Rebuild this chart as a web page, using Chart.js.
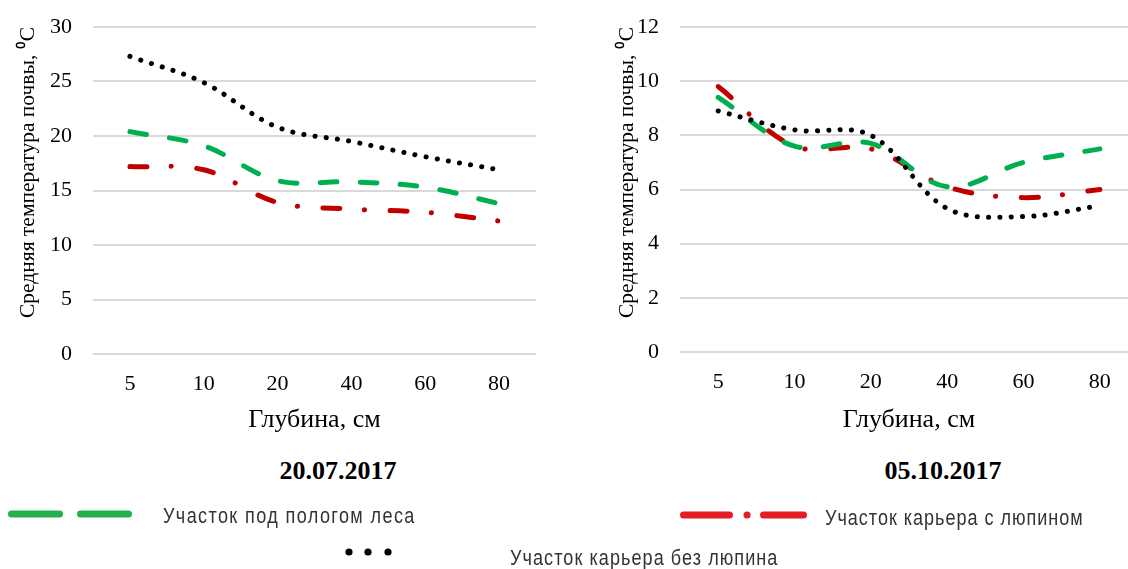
<!DOCTYPE html>
<html lang="ru">
<head>
<meta charset="UTF-8">
<title>Средняя температура почвы</title>
<script src="https://cdn.jsdelivr.net/npm/chart.js@4.4.1/dist/chart.umd.min.js"></script>
<style>
  html, body { margin: 0; padding: 0; background: #fff; }
  body { width: 1128px; height: 569px; overflow: hidden; position: relative; }
  canvas { position: absolute; top: 0; }
  #julyChart { left: 0; }
  #octChart { left: 560px; }
  .date {
    position: absolute; top: 456px; width: 200px; text-align: center;
    font: bold 26px 'Liberation Serif', 'Times New Roman', serif; color: #000;
  }
  .key {
    position: absolute; white-space: nowrap; color: #333;
    font: 22px 'Liberation Sans', Arial, sans-serif; letter-spacing: 1.7px;
    transform: scaleX(0.82); transform-origin: left center;
  }
  svg { position: absolute; left: 0; top: 0; }
</style>
</head>
<body>
<canvas id="julyChart" width="560" height="440"></canvas>
<canvas id="octChart" width="600" height="440"></canvas>

<div class="date" style="left:238px">20.07.2017</div>
<div class="date" style="left:843px">05.10.2017</div>

<svg width="1128" height="569">
  <line x1="11.5" y1="514" x2="128.5" y2="514" stroke="#22b14c" stroke-width="7"
        stroke-linecap="round" stroke-dasharray="48 21"/>
  <line x1="683.5" y1="515" x2="803.5" y2="515" stroke="#e31e24" stroke-width="7"
        stroke-linecap="round" stroke-dasharray="46 17.5 0.1 16.4 40"/>
  <circle cx="349" cy="552" r="3.6" fill="#000"/>
  <circle cx="368" cy="552" r="3.6" fill="#000"/>
  <circle cx="388" cy="552" r="3.6" fill="#000"/>
</svg>

<div class="key" style="left:163px; top:503px">Участок под пологом леса</div>
<div class="key" style="left:825px; top:505px; letter-spacing:1.2px">Участок карьера с люпином</div>
<div class="key" style="left:510px; top:545px; letter-spacing:1.3px">Участок карьера без люпина</div>

<script>
  // глубина, см
  const depths = ['5', '10', '20', '40', '60', '80'];

  // 20.07.2017
  const julyForest = [20.4, 19.1, 15.9, 15.8, 15.3, 13.8];
  const julyLupin = [17.2, 16.9, 13.9, 13.3, 13.0, 12.2];
  const julyBare = [27.3, 24.9, 20.8, 19.5, 18.1, 16.9];

  // 05.10.2017
  const octForest = [9.4, 7.6, 7.7, 6.1, 7.0, 7.5];
  const octLupin = [9.8, 7.6, 7.5, 6.1, 5.7, 6.0];
  const octBare = [8.9, 8.2, 8.0, 5.3, 5.0, 5.4];

  const serif = "'Liberation Serif', 'Times New Roman', serif";
  const yTitle = 'Средняя температура почвы, \u2070C';
  const xTitle = 'Глубина, см';

  function line(values, color, dash) {
    return {
      data: values,
      borderColor: color,
      borderWidth: 5,
      borderDash: dash,
      borderCapStyle: 'round',
      borderJoinStyle: 'round',
      pointRadius: 0,
      fill: false,
      tension: 0.35
    };
  }

  function makeChart(id, forest, lupin, bare, yMax, yStep, axisWidth, titlePad, padRight, xHeight) {
    const ctx = document.getElementById(id).getContext('2d');
    return new Chart(ctx, {
      type: 'line',
      data: {
        labels: depths,
        datasets: [
          line(bare, '#000000', [0.1, 11.2]),
          line(forest, '#00b050', [16.7, 23.3]),
          line(lupin, '#c00000', [17, 24.2, 0.1, 25.7])
        ]
      },
      options: {
        responsive: false,
        animation: false,
        layout: { padding: { top: 27, right: padRight, bottom: 0, left: 0 } },
        plugins: { legend: { display: false }, tooltip: { enabled: false } },
        scales: {
          x: {
            offset: true,
            grid: { display: false },
            border: { display: false },
            ticks: { color: '#000', padding: 9, font: { family: serif, size: 22 } },
            title: {
              display: true, text: xTitle, color: '#000',
              font: { family: serif, size: 26 },
              padding: { top: 0, bottom: 4 }
            },
            afterFit: scale => { scale.height = xHeight; }
          },
          y: {
            min: 0,
            max: yMax,
            ticks: { stepSize: yStep, color: '#000', padding: 21, font: { family: serif, size: 22 } },
            grid: { color: '#d9d9d9', lineWidth: 2, drawTicks: false },
            border: { display: false },
            title: {
              display: true, text: yTitle, color: '#000', align: 'end',
              font: { family: serif, size: 21.5 },
              padding: { top: titlePad, bottom: 0 }
            },
            afterFit: scale => {
              // tick padding would otherwise push the plot top down
              scale.width = axisWidth;
              scale.paddingTop = 0;
              scale.paddingBottom = 0;
            }
          }
        }
      }
    });
  }

  makeChart('julyChart', julyForest, julyLupin, julyBare, 30, 5, 93, 15, 24, 86);
  makeChart('octChart', octForest, octLupin, octBare, 12, 2, 120, 54, 22, 88);
</script>
</body>
</html>
